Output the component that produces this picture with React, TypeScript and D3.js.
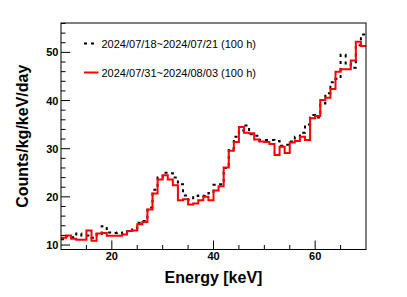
import React from "react";
import * as d3 from "d3";

// 1 keV bins from 10 to 70 keV
const binEdges = d3.range(10, 71, 1);

// 2024/07/18~2024/07/21 (black dashed)
const runA = [
  11.2, 11.8, 11.6, 12.4, 12.0, 12.0, 11.5, 12.3, 13.9, 12.6,
  12.5, 12.6, 12.4, 12.8, 13.5, 14.6, 15.0, 17.8, 21.5, 24.0,
  25.0, 24.9, 24.0, 22.6, 20.3, 19.4, 20.2, 20.3, 20.2, 20.8,
  22.5, 22.6, 26.0, 30.0, 32.5, 33.8, 34.8, 33.0, 32.7, 31.8,
  31.8, 31.8, 31.6, 30.6, 30.8, 31.5, 32.5, 33.3, 35.0, 37.0,
  36.5, 39.4, 41.5, 43.8, 44.5, 49.5, 47.7, 46.8, 51.5, 53.7,
];

// 2024/07/31~2024/08/03 (red solid)
const runB = [
  11.5, 12.0, 11.3, 11.1, 11.1, 13.0, 10.9, 12.4, 12.5, 11.9,
  11.9, 11.9, 12.2, 12.9, 13.0, 14.3, 14.8, 17.4, 20.7, 23.6,
  24.5, 23.6, 22.4, 19.3, 19.5, 18.4, 18.6, 19.3, 20.0, 19.3,
  21.3, 22.2, 26.1, 29.6, 31.4, 34.5, 33.3, 33.2, 31.9, 31.5,
  31.4, 31.0, 28.7, 30.4, 29.1, 31.3, 31.6, 32.5, 31.8, 36.3,
  36.8, 40.1, 40.6, 42.4, 46.0, 46.5, 46.5, 48.3, 52.2, 51.3,
];

const legendLabels = ["2024/07/18~2024/07/21 (100 h)", "2024/07/31~2024/08/03 (100 h)"];
const xMajorTicks = [20, 40, 60];
const xMinorTicks = [15, 25, 30, 35, 45, 50, 55, 65];
const yMajorTicks = [10, 20, 30, 40, 50];
const yMinorTicks = [12, 14, 16, 18, 22, 24, 26, 28, 32, 34, 36, 38, 42, 44, 46, 48, 52, 54, 56];

const W = 407;
const H = 297;
const frame = { left: 61, right: 366, top: 23, bottom: 249.5 };
const FONT = "'Liberation Sans', Arial, Helvetica, sans-serif";

export default function App() {
  const x = d3.scaleLinear().domain([10, 70]).range([frame.left, frame.right]);
  const y = d3.scaleLinear().domain([9.07, 56.1]).range([frame.bottom, frame.top]);

  const stepPath = (vals: number[]) => {
    const pts: [number, number][] = vals.map((v, i) => [binEdges[i], v]);
    pts.push([binEdges[vals.length], vals[vals.length - 1]]);
    return d3
      .line<[number, number]>()
      .x((d) => x(d[0]))
      .y((d) => y(d[1]))
      .curve(d3.curveStepAfter)(pts) as string;
  };

  return (
    <svg
      width={W}
      height={H}
      style={{ position: "absolute", left: 0, top: 0, background: "#fff" }}
      fontFamily={FONT}
    >
      {/* histograms */}
      <path d={stepPath(runA)} fill="none" stroke="#000" strokeWidth={2} strokeDasharray="3,4" />
      <path d={stepPath(runB)} fill="none" stroke="#ff0000" strokeWidth={2} />

      {/* frame */}
      <rect
        x={frame.left}
        y={frame.top}
        width={frame.right - frame.left}
        height={frame.bottom - frame.top}
        fill="none"
        stroke="#000"
        strokeWidth={1}
      />

      {/* x ticks */}
      {xMajorTicks.map((t) => (
        <g key={"xM" + t}>
          <line x1={x(t)} x2={x(t)} y1={frame.bottom} y2={frame.bottom - 9} stroke="#000" />
          <text x={x(t)} y={260} textAnchor="middle" fontSize={11} fontWeight="bold">
            {t}
          </text>
        </g>
      ))}
      {xMinorTicks.map((t) => (
        <line key={"xm" + t} x1={x(t)} x2={x(t)} y1={frame.bottom} y2={frame.bottom - 4.5} stroke="#000" />
      ))}

      {/* y ticks */}
      {yMajorTicks.map((t) => (
        <g key={"yM" + t}>
          <line x1={frame.left} x2={frame.left + 9} y1={y(t)} y2={y(t)} stroke="#000" />
          <text x={58.5} y={y(t) + 4} textAnchor="end" fontSize={11} fontWeight="bold">
            {t}
          </text>
        </g>
      ))}
      {yMinorTicks.map((t) => (
        <line key={"ym" + t} x1={frame.left} x2={frame.left + 4.5} y1={y(t)} y2={y(t)} stroke="#000" />
      ))}

      {/* axis titles */}
      <text x={(frame.left + frame.right) / 2} y={282.5} textAnchor="middle" fontSize={16} fontWeight="bold">
        Energy [keV]
      </text>
      <text
        transform={`translate(28,${(frame.top + frame.bottom) / 2}) rotate(-90)`}
        textAnchor="middle"
        fontSize={16}
        fontWeight="bold"
      >
        Counts/kg/keV/day
      </text>

      {/* legend */}
      <line x1={84} x2={96} y1={43.5} y2={43.5} stroke="#000" strokeWidth={2} strokeDasharray="3,4" />
      <text x={101.5} y={47.5} fontSize={11}>
        {legendLabels[0]}
      </text>
      <line x1={84} x2={98.5} y1={72.5} y2={72.5} stroke="#ff0000" strokeWidth={2} />
      <text x={101.5} y={76.5} fontSize={11}>
        {legendLabels[1]}
      </text>
    </svg>
  );
}
